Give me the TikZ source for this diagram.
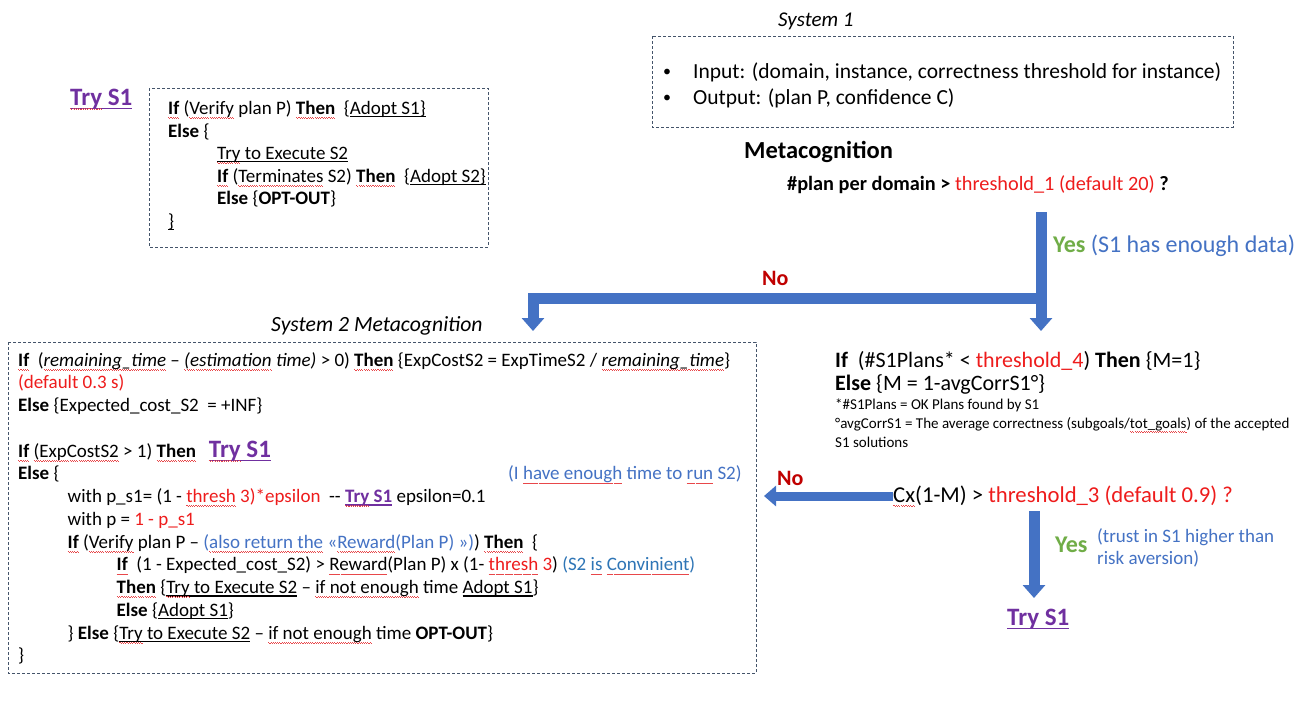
\documentclass[tikz,border=0pt]{standalone}
\usepackage{fontspec}
\setmainfont{Carlito}
\usetikzlibrary{arrows.meta}
\definecolor{rd}{HTML}{EE1C1C}
\definecolor{dred}{HTML}{C00000}
\definecolor{grn}{HTML}{70AD47}
\definecolor{pur}{HTML}{7030A0}
\definecolor{bl}{HTML}{4472C4}
\definecolor{bltwo}{HTML}{2E75B6}
\definecolor{abl}{HTML}{4472C4}
\definecolor{dashc}{HTML}{44546A}
\definecolor{sqc}{HTML}{E8474A}
\newsavebox{\ulbox}
\newsavebox{\sqbox}
\newcommand{\uln}[1]{\leavevmode\sbox{\ulbox}{#1}\rlap{\vrule height -0.1em depth 0.16em width \wd\ulbox}\usebox{\ulbox}}
\newcommand{\sq}[1]{\leavevmode\sbox{\sqbox}{#1}\rlap{\textcolor{sqc}{\hbox to \wd\sqbox{\xleaders\hbox{\vrule height -2.9pt depth 3.6pt width 1.1pt\vrule height -3.6pt depth 4.3pt width 1.1pt}\hfill}}}\usebox{\sqbox}}
\newcommand{\tryone}{\textcolor{pur}{\textbf{\uln{\sq{Try} S1}}}}
\begin{document}
\begin{tikzpicture}[x=1pt,y=-1pt,
  txt/.style={anchor=base west, inner sep=0pt, font=\fontsize{19}{23}\selectfont},
  big/.style={anchor=base west, inner sep=0pt, font=\fontsize{25}{29}\selectfont\bfseries},
  mid/.style={anchor=base west, inner sep=0pt, font=\fontsize{22}{26}\selectfont},
  sml/.style={anchor=base west, inner sep=0pt, font=\fontsize{15}{18}\selectfont},
  dbox/.style={draw=dashc, line width=0.8pt, dash pattern=on 3pt off 2pt},
  blk/.style={draw=abl, line width=11pt, -{Triangle[width=22pt,length=13pt]}},
  blkl/.style={draw=abl, line width=9pt, -{Triangle[width=20pt,length=12pt]}},
  blkplain/.style={draw=abl, line width=11pt}]
\useasboundingbox (0,0) rectangle (1297,726);
\fill[white] (0,0) rectangle (1297,726);

% ---- top-left Try S1 block
\node[big, text=pur] (tryA) at (70,105) {\uln{\sq{Try} S1}};
\draw[dbox] (149,88) rectangle (488,247);
\node[txt] (a1) at (168,114) {\sq{\textbf{If}} (\sq{Verify} plan P) \sq{\textbf{Then}}\ \ \{\uln{Adopt S1\}}};
\node[txt] (a2) at (168,137) {\textbf{Else} \{};
\node[txt] (a3) at (217,159) {\uln{\sq{Try} to Execute S2}};
\node[txt] (a4) at (217,182) {\sq{\textbf{If}} (\sq{Terminates} S2) \sq{\textbf{Then}}\ \ \{\uln{Adopt S2\}}};
\node[txt] (a5) at (217,204) {\textbf{Else} \{\textbf{OPT-OUT}\}};
\node[txt] (a6) at (168,227) {\uln{\}}};

% ---- System 1
\node[txt, font=\fontsize{21}{25}\selectfont\itshape] (s1t) at (778,26) {System 1};
\draw[dbox] (652,36) rectangle (1233,127);
\node[txt, font=\fontsize{16}{20}\selectfont] (b1) at (663,76.5) {•};
\node[txt, font=\fontsize{21.5}{25}\selectfont] (s1in) at (693,78) {Input: (domain, instance, correctness threshold for instance)};
\node[txt, font=\fontsize{16}{20}\selectfont] (b2) at (663,102.5) {•};
\node[txt, font=\fontsize{21.5}{25}\selectfont] (s1out) at (693,104) {Output: (plan P, confidence C)};

% ---- Metacognition
\node[anchor=base west, inner sep=0pt, font=\fontsize{24.5}{28}\selectfont\bfseries] (meta) at (744,158) {Metacognition};
\node[txt, font=\fontsize{20.3}{24}\selectfont] (plan) at (787,190) {\textbf{\#plan per domain >} \textcolor{rd}{threshold\_1 (default 20)} \textbf{?}};

\coordinate (stem) at (1041,212);
\coordinate (join) at (1041,298);
\coordinate (lefttip) at (533,331);
\coordinate (righttip) at (1041,331);
\draw[blkplain] (stem) -- ([yshift=5.5pt]join);
\draw[blkplain] (1046.5,298) -- (527.5,298);
\draw[blk] (533,298) -- (lefttip);
\draw[blk] (join) -- (righttip);
\node[txt, font=\fontsize{24}{28}\selectfont] (yes1) at (1053,252) {\textcolor{grn}{\textbf{Yes}} \textcolor{bl}{(S1 has enough data)}};
\node[txt, text=dred, font=\fontsize{22}{26}\selectfont\bfseries] (no1) at (762,285) {No};

% ---- System 2 Metacognition
\node[txt, font=\fontsize{21.7}{25}\selectfont\itshape] (s2t) at (271,331) {System 2 Metacognition};
\draw[dbox] (8,342) rectangle (756,673);
\node[txt] (c1) at (18,366) {\sq{\textbf{If}}\ \ (\textit{\sq{remaining\_time}} – \textit{\sq{(estimation} time)} > 0) \sq{\textbf{Then}} \{ExpCostS2 = ExpTimeS2 / \textit{\sq{remaining\_time}}\}};
\node[txt, text=rd] (c2) at (18,388.7) {(default 0.3 s)};
\node[txt] (c3) at (18,411.5) {\textbf{Else} \{Expected\_cost\_S2\ \ = +INF\}};
\node[txt] (c4) at (18,457) {\sq{\textbf{If}} \sq{(ExpCostS2} > 1) \sq{\textbf{Then}}\ \ \ \textcolor{pur}{\fontsize{25}{29}\selectfont\textbf{\uln{\sq{Try} S1}}}};
\node[txt] (c5) at (18,479.7) {\textbf{Else} \{};
\node[txt, text=bl] (c5b) at (508,479.7) {(I \sq{have enough} time to \sq{run} S2)};
\node[txt] (c6) at (67.5,502.5) {with p\_s1= (1 - \textcolor{rd}{\sq{thresh} 3)*epsilon}\ \ -{}- \tryone\ epsilon=0.1};
\node[txt] (c7) at (67.5,525.2) {with p = \textcolor{rd}{1 - p\_s1}};
\node[txt] (c8) at (67.5,548) {\sq{\textbf{If}} (\sq{Verify} plan P – \textcolor{bl}{(\sq{also return the} «\sq{Reward}(Plan P) »)}) \sq{\textbf{Then}}\ \ \{};
\node[txt] (c9) at (116.5,570.7) {\sq{\textbf{If}}\ \ (1 - Expected\_cost\_S2) > \sq{Reward}(Plan P) x (1- \textcolor{rd}{\sq{thresh} 3}) \textcolor{bltwo}{(S2 \sq{is} \sq{Convinient})}};
\node[txt] (c10) at (116.5,593.5) {\sq{\textbf{Then}} \{\uln{\sq{Try} to Execute S2} – \sq{if not enough} time \uln{Adopt S1}\}};
\node[txt] (c11) at (116.5,616.2) {\textbf{Else} \{\uln{Adopt S1}\}};
\node[txt] (c12) at (67.5,639) {\} \textbf{Else} \{\uln{\sq{Try} to Execute S2} – \sq{if not enough} time \textbf{OPT-OUT}\}};
\node[txt] (c13) at (18,661.7) {\}};

% ---- right side
\node[mid] (r1) at (835,367) {\textbf{If}\ \ (\#S1Plans* < \textcolor{rd}{threshold\_4}) \textbf{Then} \{M=1\}};
\node[mid] (r2) at (835,390) {\textbf{Else} \{M = 1-avgCorrS1°\}};
\node[sml] (r3) at (835,409) {*\#S1Plans = OK Plans found by S1};
\node[sml] (r4) at (835,428) {°avgCorrS1 = The average correctness (subgoals/\sq{tot\_goals}) of the accepted};
\node[sml] (r5) at (835,447) {S1 solutions};

\node[txt, font=\fontsize{22.7}{27}\selectfont] (cx) at (893,502) {\sq{Cx}(1-M) > \textcolor{rd}{threshold\_3 (default 0.9) ?}};
\draw[blkl] (cx.west |- 0,496) coordinate (cxl) -- (764,496) coordinate (notip);
\node[txt, text=dred, font=\fontsize{22}{26}\selectfont\bfseries] (no2) at (777,485) {No};
\draw[blk] (1034,511) coordinate (dtop) -- (1034,598) coordinate (dtip);
\node[txt, text=grn, font=\fontsize{24}{28}\selectfont\bfseries] (yes2) at (1055,552) {Yes};
\node[txt, text=bl, font=\fontsize{19}{23}\selectfont] (tr1) at (1097,542) {(trust in S1 higher than};
\node[txt, text=bl, font=\fontsize{19}{23}\selectfont] (tr2) at (1097,564) {risk aversion)};
\node[big, text=pur] (tryB) at (1007,625) {\uln{Try S1}};
\end{tikzpicture}
\end{document}
